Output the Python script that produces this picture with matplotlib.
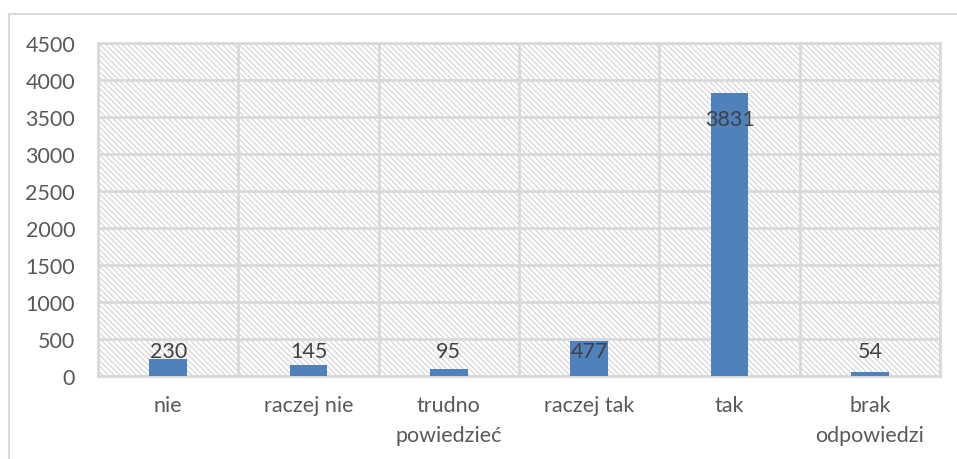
import matplotlib
matplotlib.use("Agg")
import matplotlib.pyplot as plt
from matplotlib.patches import Rectangle
from matplotlib.lines import Line2D

categories = ["nie", "raczej nie", "trudno\npowiedzieć", "raczej tak", "tak", "brak\nodpowiedzi"]
values = [230, 145, 95, 477, 3831, 54]
yticks = [0, 500, 1000, 1500, 2000, 2500, 3000, 3500, 4000, 4500]

plt.rcParams['font.family'] = ['Lato', 'DejaVu Sans']
plt.rcParams['hatch.color'] = '#dadada'
plt.rcParams['hatch.linewidth'] = 1.0

W, H = 957, 460
fig = plt.figure(figsize=(W / 100, H / 100), dpi=100)
ax = fig.add_axes([98 / W, 83 / H, (940 - 98) / W, (377 - 44) / H])

grid = '#d9d9d9'
fs = 15.5
# hatched background
ax.add_patch(Rectangle((0, 0), 1, 1, transform=ax.transAxes, facecolor='white',
                       edgecolor='#dadada', hatch='\\' * 6, lw=0, zorder=0))
ax.set_facecolor('white')

x = list(range(len(categories)))
ax.bar(x, values, width=0.27, color='#4f81bd', zorder=3)

ax.set_xlim(-0.5, len(categories) - 0.5)
ax.set_ylim(0, 4500)
ax.set_yticks(yticks)
ax.set_yticklabels([str(t) for t in yticks], fontsize=fs, color='#595959')
ax.set_xticks(x)
ax.set_xticklabels(categories, fontsize=fs, color='#595959', linespacing=1.65, va='top')
ax.tick_params(axis='both', length=0)
ax.tick_params(axis='y', pad=16.5)
ax.tick_params(axis='x', pad=13.5)

for t in yticks:
    ax.axhline(t, color=grid, lw=2, zorder=1)
for b in range(len(categories) + 1):
    ax.axvline(b - 0.5, color=grid, lw=2, zorder=1)
for s in ax.spines.values():
    s.set_color(grid)
    s.set_linewidth(2)

for xi, v in zip(x, values):
    ax.text(xi, max(v - 358, 338), str(v), ha='center', va='center',
            fontsize=fs, color='#404040', zorder=4)

# outer chart frame
fig.add_artist(Line2D([9 / W, 1], [1 - 15 / H, 1 - 15 / H], transform=fig.transFigure,
                      color=grid, lw=1.5))
fig.add_artist(Line2D([9 / W, 9 / W], [0, 1 - 15 / H], transform=fig.transFigure,
                      color=grid, lw=1.5))

fig.savefig("out.png", dpi=100)
